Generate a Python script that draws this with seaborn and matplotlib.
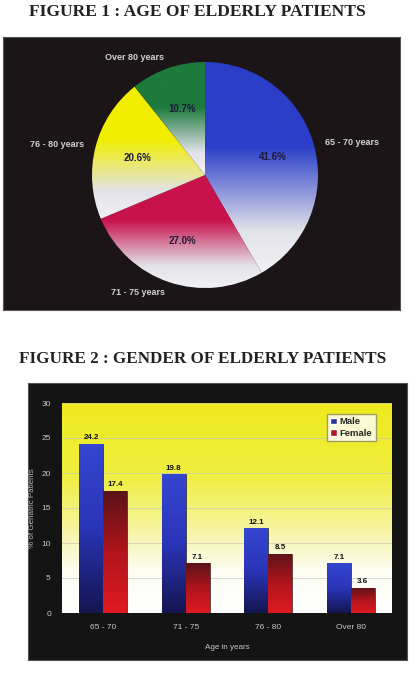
import numpy as np
import pandas as pd
import seaborn as sns
import matplotlib
matplotlib.use('Agg')
import matplotlib.pyplot as plt
from matplotlib.colors import LinearSegmentedColormap

# figure 1 data
pie_labels = ['65 - 70 years', '71 - 75 years', '76 - 80 years', 'Over 80 years']
pie_values = [41.6, 27.0, 20.6, 10.7]
pie_colors = ['#2b3ec8', '#c8124c', '#f2ee00', '#1d7a3c']

# figure 2 data
age_groups = ['65 - 70', '71 - 75', '76 - 80', 'Over 80']
male_pct = [24.2, 19.8, 12.1, 7.1]
female_pct = [17.4, 7.1, 8.5, 3.6]
sex_labels = ['Male', 'Female']
bar_colors = ['#27309e', '#b0141c']

W, H = 416, 699


def px(l, t, r, b):
    # pixel box -> figure fraction rect
    return [l / W, 1 - b / H, (r - l) / W, (b - t) / H]


sns.set_theme(style='white')
plt.rcParams['font.family'] = ['Liberation Sans', 'DejaVu Sans']

fig = plt.figure(figsize=(W / 100, H / 100), dpi=100)
fig.patch.set_facecolor('white')

serif = ['Liberation Serif', 'DejaVu Serif']
fig.text(197 / W, 1 - 12 / H, 'FIGURE 1 : AGE OF ELDERLY PATIENTS', ha='center', va='center',
         fontsize=12.6, fontweight='bold', family=serif, color='#222222')
fig.text(203 / W, 1 - 359 / H, 'FIGURE 2 : GENDER OF ELDERLY PATIENTS', ha='center', va='center',
         fontsize=12.3, fontweight='bold', family=serif, color='#222222')

# ---- pie panel
bg1 = fig.add_axes(px(3, 37, 400, 310))
bg1.set_facecolor('#1b1517')
bg1.set_xticks([]); bg1.set_yticks([])
for s in bg1.spines.values():
    s.set_color('#555555'); s.set_linewidth(0.8)

ax1 = fig.add_axes(px(92, 62, 318, 288))
ax1.set_facecolor('none')
ax1.axis('off')
wedges, texts, autotexts = ax1.pie(pie_values, labels=pie_labels, startangle=90, counterclock=False,
                                   autopct='%.1f%%', pctdistance=0.62, labeldistance=1.1,
                                   textprops=dict(fontsize=6.5, fontweight='bold'))
ax1.set_xlim(-1, 1); ax1.set_ylim(-1, 1)
for t in texts:
    t.set_color('#d0d0d0')
for t in autotexts:
    t.set_color('#1a1a3a'); t.set_fontsize(7)

grad = np.linspace(0, 1, 256).reshape(-1, 1)
for w, c in zip(wedges, pie_colors):
    cmap = LinearSegmentedColormap.from_list('g', [(0, '#f2f2f4'), (0.2, '#e2e2ea'), (0.6, c), (1, c)])
    x0, y0, x1, y1 = w.get_path().get_extents().extents
    im = ax1.imshow(grad, extent=[x0, x1, y0, y1], origin='lower', cmap=cmap, aspect='auto', zorder=0.5)
    im.set_clip_path(w)
    w.set_facecolor('none')
    w.set_edgecolor('none')
ax1.set_xlim(-1, 1); ax1.set_ylim(-1, 1)

# ---- bar panel
bg2 = fig.add_axes(px(28, 383, 407, 660))
bg2.set_facecolor('#141414')
bg2.set_xticks([]); bg2.set_yticks([])
for s in bg2.spines.values():
    s.set_color('#555555'); s.set_linewidth(0.8)

df = pd.DataFrame({
    'age': age_groups * 2,
    'pct': male_pct + female_pct,
    'sex': [sex_labels[0]] * 4 + [sex_labels[1]] * 4,
})

ax2 = fig.add_axes(px(62, 403, 392, 613))
sns.barplot(data=df, x='age', y='pct', hue='sex', palette=bar_colors, width=0.58,
            saturation=1, ax=ax2, legend=True)
ax2.set_ylim(0, 30)
ax2.set_yticks(range(0, 31, 5))
xl = ax2.get_xlim()

# yellow to white background
bg_cmap = LinearSegmentedColormap.from_list('bgc', [(0, '#ffffff'), (0.2, '#fdfdf4'), (0.4, '#f6f4a0'),
                                                    (0.65, '#f0ee40'), (1, '#eeea1e')])
ax2.imshow(grad, extent=[xl[0], xl[1], 0, 30], origin='lower', cmap=bg_cmap, aspect='auto', zorder=0)
ax2.set_xlim(xl)
ax2.grid(axis='y', color='#c8c8b0', linewidth=0.5, zorder=0.5)

bar_cmaps = [
    LinearSegmentedColormap.from_list('m', ['#141650', '#2a34b8', '#3546d0']),
    LinearSegmentedColormap.from_list('f', ['#e01a22', '#b0141c', '#5a1418']),
]
for cont, cm in zip(ax2.containers, bar_cmaps):
    for p in cont:
        p.set_zorder(2)
        p.set_edgecolor('#101010'); p.set_linewidth(0.4)
        x0, y0 = p.get_x(), p.get_y()
        im = ax2.imshow(grad, extent=[x0, x0 + p.get_width(), y0, y0 + p.get_height()],
                        origin='lower', cmap=cm, aspect='auto', zorder=2.1)
        im.set_clip_path(p)
    ax2.bar_label(cont, fmt='%.1f', padding=2, fontsize=5.8, fontweight='bold', color='#111111')
ax2.set_xlim(xl); ax2.set_ylim(0, 30)

ax2.set_xlabel('Age in years', color='#c8c8c8', fontsize=5.8, labelpad=9)
ax2.set_ylabel('% of Geriatric Patients', color='#b8b8b8', fontsize=5.8, labelpad=4)
ax2.tick_params(axis='both', colors='#c8c8c8', labelsize=6, length=0, pad=8)
for s in ax2.spines.values():
    s.set_visible(False)

leg = ax2.legend(loc='upper right', fontsize=6.8, frameon=True, handlelength=0.7, handleheight=0.7,
                 handletextpad=0.3, borderpad=0.35, labelspacing=0.25, fancybox=False,
                 bbox_to_anchor=(0.965, 0.97))
leg.get_frame().set_facecolor('#ffffff')
leg.get_frame().set_edgecolor('#8a8a50')
leg.get_frame().set_linewidth(1.0)
for t in leg.get_texts():
    t.set_fontweight('bold')

fig.savefig('out.png', dpi=100)
